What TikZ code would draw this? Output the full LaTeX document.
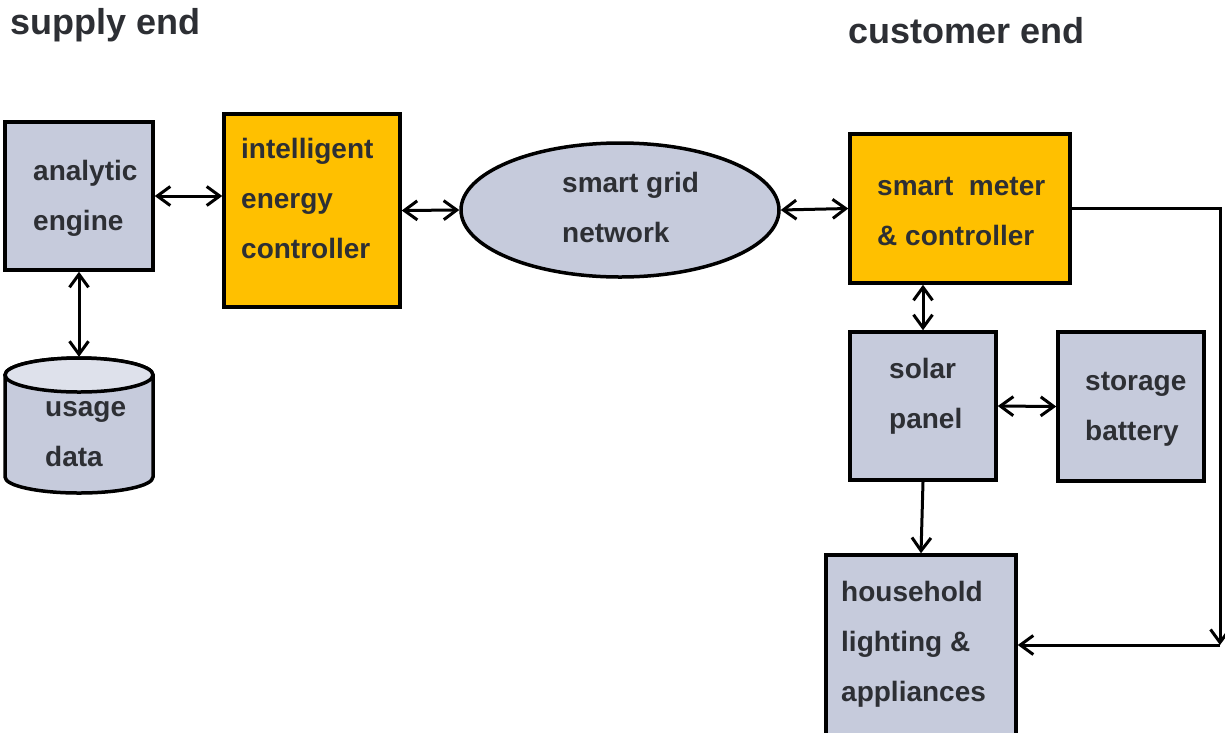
\documentclass[tikz,border=0pt]{standalone}
\usepackage{fontspec}
\setmainfont{Liberation Sans}
\usetikzlibrary{arrows.meta,shapes.geometric}
\definecolor{boxgray}{RGB}{198,203,220}
\definecolor{toplight}{RGB}{222,225,235}
\definecolor{gold}{RGB}{255,192,0}
\definecolor{txt}{RGB}{45,47,52}
\tikzset{
  box/.style={draw=black, line width=3.5pt, fill=boxgray, rectangle, inner sep=0pt},
  goldbox/.style={box, fill=gold},
  lbl/.style={text=txt, font=\bfseries\fontsize{28}{50}\selectfont, align=left, anchor=west, inner sep=0pt},
  hdr/.style={text=txt, font=\bfseries\fontsize{36}{40}\selectfont, anchor=west, inner sep=0pt},
  conn/.style={line width=3pt, >={Straight Barb[length=13pt,width=19pt]}},
}
\begin{document}
\begin{tikzpicture}[x=1pt,y=-1pt]
\useasboundingbox (0,0) rectangle (1225,732);
\fill[white] (0,0) rectangle (1225,732);

% headers
\node[hdr] (hsupply) at (10,25) {supply end};
\node[hdr] (hcust) at (848,31) {customer end};

% boxes
\node[box, minimum width=148pt, minimum height=148pt] (ae) at (79,196) {};
\node[lbl] (tae) at (33,198) {analytic\\engine};

\node[goldbox, minimum width=176pt, minimum height=193pt] (ie) at (312,210.5) {};
\node[lbl] (tie) at (241,198) {intelligent\\energy\\controller};

\node[draw=black, line width=3.5pt, fill=boxgray, ellipse, minimum width=318pt, minimum height=134pt, inner sep=0pt] (sg) at (620,210) {};
\node[lbl] (tsg) at (562,207) {smart grid\\network};

\node[goldbox, minimum width=220pt, minimum height=149pt] (sm) at (960,208.5) {};
\node[lbl] (tsm) at (877,211) {smart\ \ meter\\\& controller};

\node[box, minimum width=146pt, minimum height=148pt] (sp) at (923,406) {};
\node[lbl] (tsp) at (889,396) {solar\\panel};

\node[box, minimum width=146pt, minimum height=149pt] (sb) at (1131,406.5) {};
\node[lbl] (tsb) at (1085,409) {storage\\battery};

\node[box, minimum width=190pt, minimum height=180pt] (hh) at (921,645) {};
\node[lbl] (thh) at (841,644) {household\\lighting \&\\appliances};

% usage data cylinder
\node[minimum width=148pt, minimum height=136pt, inner sep=0pt] (ud) at (79,425) {};
\filldraw[line width=3.5pt, fill=boxgray] (5,375) -- (5,477) arc[start angle=180, end angle=0, x radius=74, y radius=16] -- (153,375) arc[start angle=0, end angle=-180, x radius=74, y radius=17] -- cycle;
\filldraw[line width=3.5pt, fill=toplight] (79,375) ellipse[x radius=74, y radius=17];
\node[lbl] (tud) at (45,434) {usage\\data};

% connectors
\draw[conn,<->] (ae.east) -- (ae.east -| ie.west);
\draw[conn,<->] (ae.south) -- (ud.north);
\draw[conn,<->] (ie.east) -- (sg.west);
\draw[conn,<->] (sg.east) -- (sm.west);
\draw[conn,<->] (sp.north |- sm.south) -- (sp.north);
\draw[conn,<->] (sp.east) -- (sb.west);
\draw[conn,->] (sp.south) -- (hh.north);
\coordinate (c2) at (1220,645);
\draw[conn,->] (sm.east) -| (c2);
\draw[conn,->] (c2) -- (hh.east);
\end{tikzpicture}
\end{document}
